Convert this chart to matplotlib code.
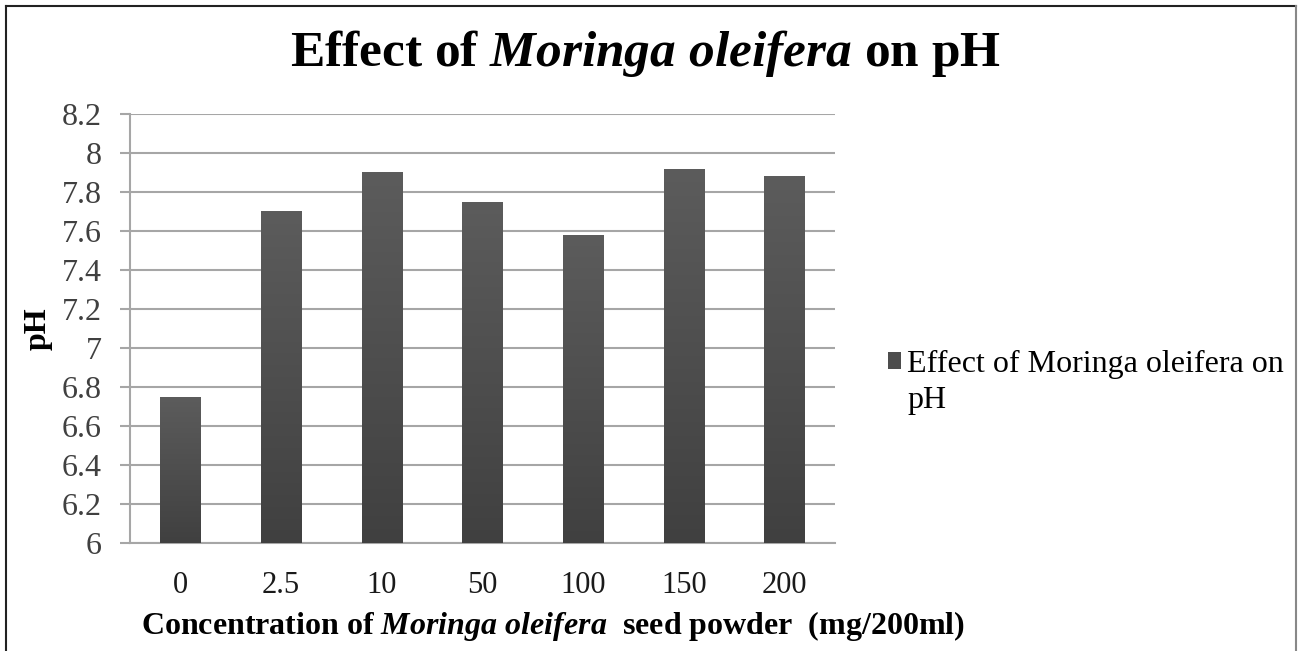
import numpy as np
import matplotlib
matplotlib.use("Agg")
import matplotlib.pyplot as plt
from matplotlib.lines import Line2D
from matplotlib.colors import LinearSegmentedColormap

categories = ["0", "2.5", "10", "50", "100", "150", "200"]
ph_values = [6.75, 7.70, 7.90, 7.75, 7.58, 7.92, 7.88]
yticks = [6, 6.2, 6.4, 6.6, 6.8, 7, 7.2, 7.4, 7.6, 7.8, 8, 8.2]
ytick_labels = ["6", "6.2", "6.4", "6.6", "6.8", "7", "7.2", "7.4", "7.6", "7.8", "8", "8.2"]
series_line1 = "Effect of Moringa oleifera on"
series_line2 = "pH"

plt.rcParams['font.family'] = ['Liberation Serif', 'DejaVu Serif']
plt.rcParams['mathtext.fontset'] = 'custom'
plt.rcParams['mathtext.it'] = 'Liberation Serif:italic:bold'
plt.rcParams['mathtext.rm'] = 'Liberation Serif:bold'
plt.rcParams['mathtext.bf'] = 'Liberation Serif:bold'

fig = plt.figure(figsize=(12.99, 6.51), dpi=100)
ax = fig.add_axes([0.100, 0.1659, 0.5427, 0.659])

x = np.arange(len(categories))
bars = ax.bar(x, ph_values, width=0.4, color='#4d4d4d',
              edgecolor='none', zorder=3, label=series_line1)

cmap = LinearSegmentedColormap.from_list('g', ['#404040', '#5c5c5c'])
grad = np.linspace(0, 1, 256).reshape(-1, 1)
for b in bars:
    x0, w, h = b.get_x(), b.get_width(), b.get_height()
    im = ax.imshow(grad, cmap=cmap, origin='lower', aspect='auto',
                   extent=[x0, x0 + w, 6, h], zorder=3.5)
    im.set_clip_path(b)

ax.set_xlim(-0.5, len(categories) - 0.5)
ax.set_ylim(6, 8.2)
ax.set_yticks(yticks)
ax.set_yticklabels(ytick_labels)
ax.set_xticks(x)
ax.set_xticklabels(categories)

ax.grid(axis='y', color='#a6a6a6', linewidth=1.5, zorder=0)
for s in ['top', 'right']:
    ax.spines[s].set_visible(False)
for s in ['left', 'bottom']:
    ax.spines[s].set_color('#a6a6a6')
    ax.spines[s].set_linewidth(1.5)
ax.tick_params(axis='y', length=7, width=1.5, color='#a6a6a6',
               labelsize=23, labelcolor='#404040', pad=13)
ax.tick_params(axis='x', length=0, labelsize=22, labelcolor='#1a1a1a', pad=20)

ax.set_ylabel('pH', fontsize=23, fontweight='bold', labelpad=7)

fig.text(0.497, 0.918, r'Effect of $Moringa\ oleifera$ on pH',
         ha='center', va='center', fontsize=37, fontweight='bold')
fig.text(0.4255, 0.039,
         r'Concentration of $Moringa\ oleifera$  seed powder  (mg/200ml)',
         ha='center', va='center', fontsize=23, fontweight='bold')

leg = ax.legend(loc='center left', bbox_to_anchor=(0.671, 0.440),
                bbox_transform=fig.transFigure, frameon=False,
                fontsize=23, handlelength=0.42, handleheight=0.42,
                handletextpad=0.2, borderpad=0, labelspacing=0)

fig.canvas.draw()
t0 = leg.get_texts()[0]
bb = t0.get_window_extent(fig.canvas.get_renderer()).transformed(fig.transFigure.inverted())
fig.text(bb.x0, bb.y0 - 0.010, series_line2, ha='left', va='top', fontsize=23)

border_kw = dict(transform=fig.transFigure, linewidth=1.5)
fig.lines.append(Line2D([0.005, 0.998], [0.991, 0.991], color='#222222', **border_kw))
fig.lines.append(Line2D([0.005, 0.005], [0.0, 0.991], color='#222222', **border_kw))
fig.lines.append(Line2D([0.998, 0.998], [0.0, 0.991], color='#888888', **border_kw))

fig.savefig('out.png', dpi=100, facecolor='white')
